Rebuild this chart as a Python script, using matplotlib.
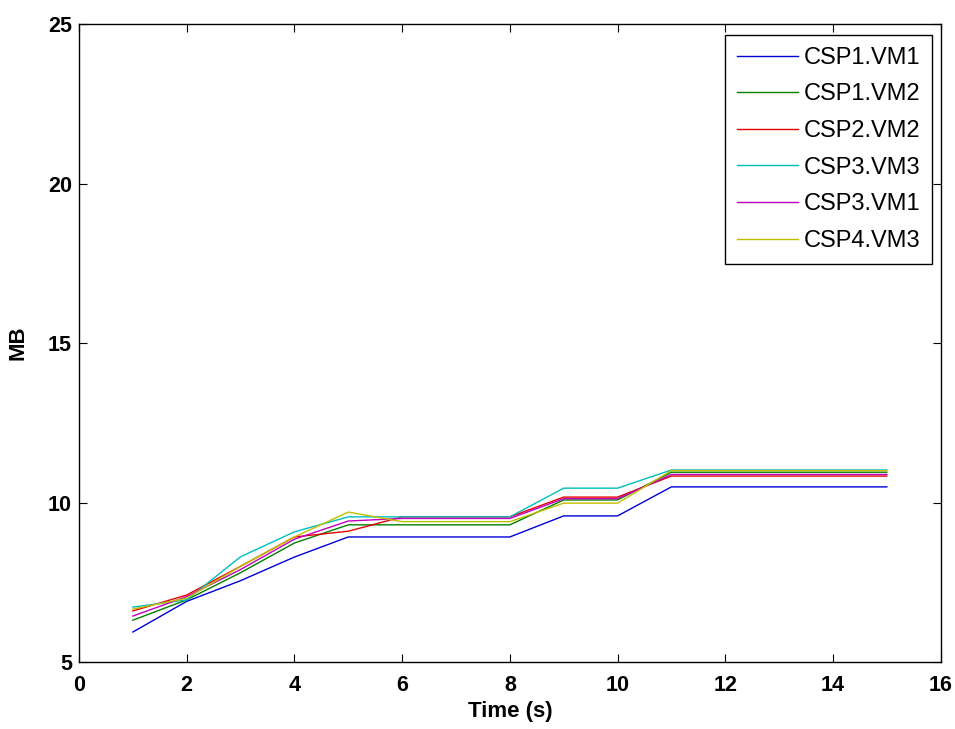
import matplotlib
matplotlib.use("Agg")
import matplotlib.pyplot as plt

plt.rcParams['font.family'] = ['Liberation Sans', 'DejaVu Sans']

time_s = [1, 2, 3, 4, 5, 6, 7, 8, 9, 10, 11, 12, 13, 14, 15]
csp1_vm1 = [5.94, 6.90, 7.55, 8.29, 8.92, 8.92, 8.92, 8.92, 9.58, 9.58, 10.49, 10.49, 10.49, 10.49, 10.49]
csp1_vm2 = [6.31, 6.95, 7.80, 8.73, 9.30, 9.30, 9.30, 9.30, 10.08, 10.08, 10.95, 10.95, 10.95, 10.95, 10.95]
csp2_vm2 = [6.60, 7.10, 8.00, 8.92, 9.10, 9.55, 9.55, 9.55, 10.17, 10.17, 10.83, 10.83, 10.83, 10.83, 10.83]
csp3_vm3 = [6.72, 6.95, 8.30, 9.08, 9.55, 9.55, 9.55, 9.55, 10.45, 10.45, 11.02, 11.02, 11.02, 11.02, 11.02]
csp3_vm1 = [6.44, 7.05, 7.90, 8.85, 9.42, 9.50, 9.50, 9.50, 10.12, 10.12, 10.88, 10.88, 10.88, 10.88, 10.88]
csp4_vm3 = [6.66, 7.00, 8.00, 8.92, 9.70, 9.40, 9.40, 9.40, 9.98, 9.98, 11.00, 11.00, 11.00, 11.00, 11.00]

series = [
    ("CSP1.VM1", csp1_vm1, (0, 0, 0.85)),
    ("CSP1.VM2", csp1_vm2, (0, 0.5, 0)),
    ("CSP2.VM2", csp2_vm2, (0.9, 0, 0)),
    ("CSP3.VM3", csp3_vm3, (0, 0.75, 0.75)),
    ("CSP3.VM1", csp3_vm1, (0.75, 0, 0.75)),
    ("CSP4.VM3", csp4_vm3, (0.75, 0.75, 0)),
]

fig = plt.figure(figsize=(9.55, 7.29), dpi=100)
ax = fig.add_axes([0.0827, 0.0919, 0.9023, 0.8751])
for name, vals, col in series:
    ax.plot(time_s, vals, color=col, lw=1.0, label=name)

ax.set_xlim(0, 16)
ax.set_ylim(5, 25)
ax.set_xticks(range(0, 17, 2))
ax.set_yticks(range(5, 26, 5))
ax.tick_params(direction='in', top=True, right=True, length=6, labelsize=15.5)
ax.tick_params(axis='x', pad=9)
ax.tick_params(axis='y', pad=5)
for lbl in ax.get_xticklabels() + ax.get_yticklabels():
    lbl.set_fontweight('bold')
for s in ax.spines.values():
    s.set_linewidth(1.0)
ax.set_xlabel("Time (s)", fontsize=16, fontweight='bold', labelpad=4)
ax.set_ylabel("MB", fontsize=16, fontweight='bold', labelpad=14)

leg = ax.legend(loc='upper right', bbox_to_anchor=(0.9896, 0.9828),
                prop=dict(size=17), handlelength=2.6, labelspacing=0.62,
                handletextpad=0.21, borderpad=0.5, borderaxespad=0,
                fancybox=False, framealpha=1)
leg.get_frame().set_edgecolor('black')
leg.get_frame().set_linewidth(1.0)

fig.savefig("out.png", dpi=100)
